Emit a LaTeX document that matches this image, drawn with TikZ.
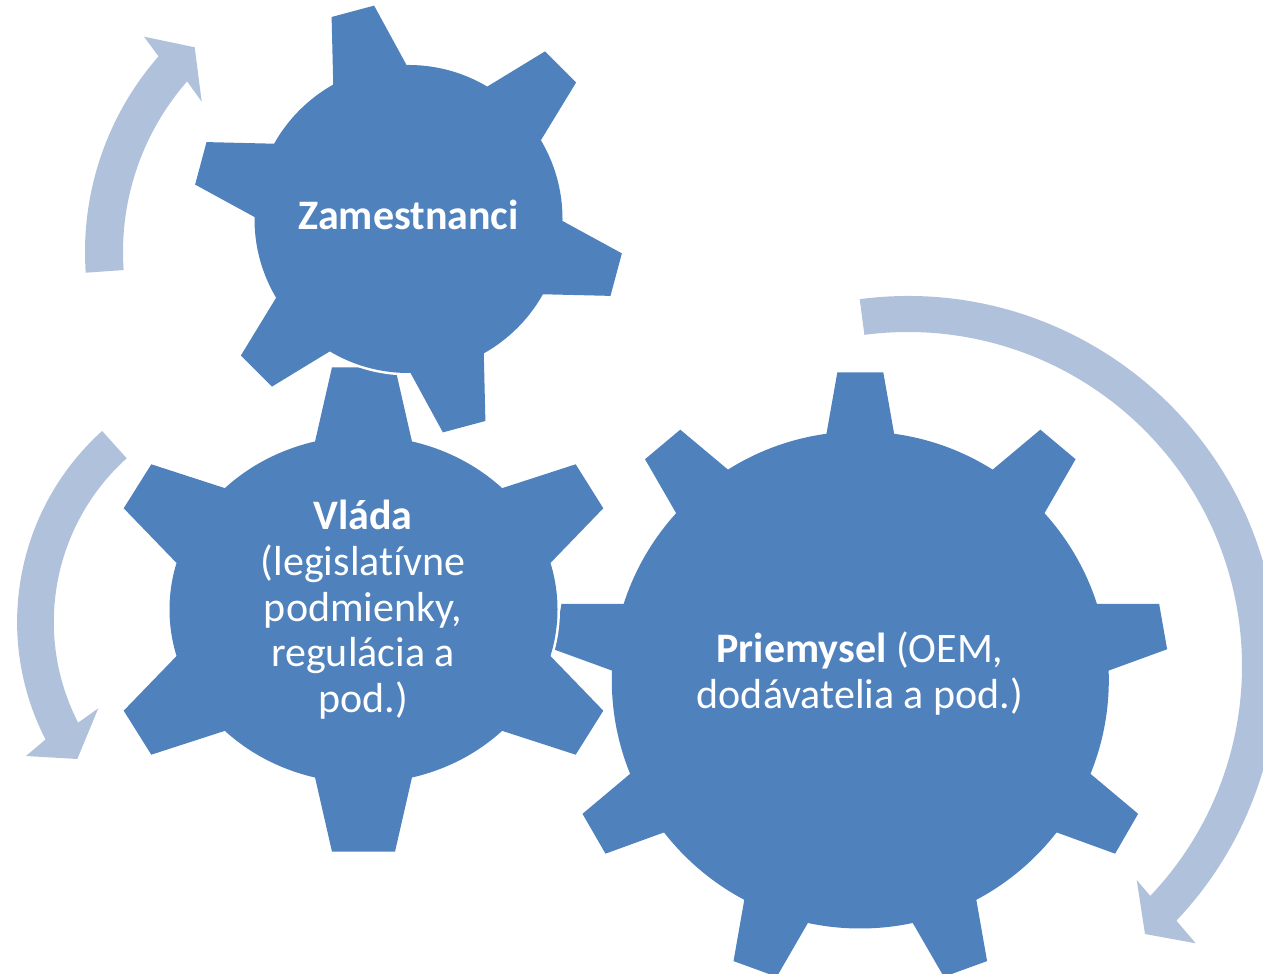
\documentclass[tikz,border=0pt]{standalone}
\usepackage{fontspec}
\setmainfont{Carlito}[Ligatures=NoCommon]
\definecolor{gearblue}{HTML}{4F81BD}
\definecolor{arrowblue}{RGB}{176,193,220}
\tikzset{
  gearfill/.style={fill=gearblue},
  gearline/.style={draw=white, fill=white, line width=5pt, line join=round},
  arrowfill/.style={fill=arrowblue},
  gtext/.style={text=white, anchor=base, inner sep=0pt, font=\fontsize{42}{46}\selectfont},
}
\newcommand\gearZ[1]{%
  \path[#1] (408.5,755) circle[radius=154];
  \foreach \a in {105,165,225,285,345,405} {
    \path[#1, shift={(408.5,755)}, rotate=\a] (0,0) -- (149,-38) -- (215,-22) -- (215,22) -- (149,38) -- cycle;}
}
\newcommand\gearP[1]{%
  \path[#1] (860.3,294) circle[radius=248.5];
  \foreach \a in {10,50,...,330} {
    \path[#1, shift={(860.3,294)}, rotate=\a] (0,0) -- (245.3,-34) -- (307.5,-23) -- (307.5,23) -- (245.3,34) -- cycle;}
}
\newcommand\gearV[1]{%
  \path[#1] (363.5,364.5) ellipse[x radius=194, y radius=173.5];
  \path[#1] (363.5,364.5) -- (315,532.3) -- (332,606.7) -- (395,606.7) -- (412,532.3) -- cycle;
  \path[#1] (363.5,364.5) -- (315,196.7) -- (332,122.3) -- (395,122.3) -- (412,196.7) -- cycle;
  \path[#1] (363.5,364.5) -- (501.7,485.7) -- (575.7,509.7) -- (603.3,465.7) -- (550.7,411.3) -- cycle;
  \path[#1] (363.5,364.5) -- (501.7,243.3) -- (575.7,219.3) -- (603.3,263.3) -- (550.7,317.7) -- cycle;
  \path[#1] (363.5,364.5) -- (225.3,485.7) -- (151.3,509.7) -- (123.7,465.7) -- (176.3,411.3) -- cycle;
  \path[#1] (363.5,364.5) -- (225.3,243.3) -- (151.3,219.3) -- (123.7,263.3) -- (176.3,317.7) -- cycle;
}
\begin{document}
\begin{tikzpicture}[x=1pt, y=1pt]
\useasboundingbox (0,0) rectangle (1263,974);
% circular arrows
\path[arrowfill] ([shift={(382,722)}]184:297) arc[start angle=184, end angle=138.8, radius=297]
  -- (144,937.3) -- (194.7,926.7) -- (201.7,872.3)
  -- ([shift={(382,722)}]138.8:259) arc[start angle=138.8, end angle=184, radius=259] -- cycle;
\path[arrowfill] ([shift={(274.1,352)}]132:257) arc[start angle=132, end angle=207.2, radius=257]
  -- (26,218) -- (77.3,215) -- (98.3,265.7)
  -- ([shift={(274.1,352)}]207.2:220.3) arc[start angle=207.2, end angle=132, radius=220.3] -- cycle;
\path[arrowfill] ([shift={(908,308)}]97.5:370) arc[start angle=97.5, end angle=-43.5, radius=370]
  -- (1195.7,30.7) -- (1145,40) -- (1136.7,94)
  -- ([shift={(908,308)}]-43.5:334) arc[start angle=-43.5, end angle=97.5, radius=334] -- cycle;
% gears (bottom to top)
\gearP{gearline}
\gearP{gearfill}
\gearV{gearline}
\gearV{gearfill}
\gearZ{gearline}
\gearZ{gearfill}
% texts
\node[gtext] (zam) at (408.5,744) {\textbf{Zamestnanci}};
\node[gtext] (v1) at (363,444) {\textbf{Vláda}};
\node[gtext] (v2) at (363,398.3) {(legislatívne};
\node[gtext] (v3) at (363,352.7) {podmienky,};
\node[gtext] (v4) at (363,307) {regulácia a};
\node[gtext] (v5) at (363,261.3) {pod.)};
\node[gtext] (p1) at (860,311.8) {\textbf{Priemysel} (OEM,};
\node[gtext] (p2) at (860,265.2) {dodávatelia a pod.)};
\end{tikzpicture}
\end{document}
